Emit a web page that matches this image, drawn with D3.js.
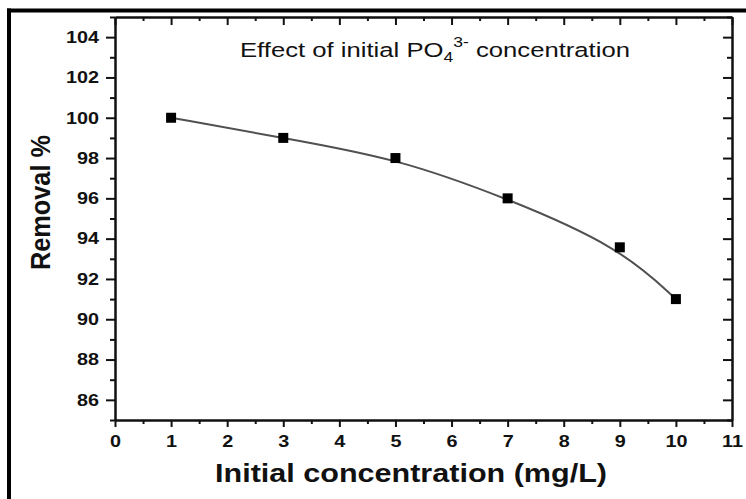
<!DOCTYPE html>
<html>
<head>
<meta charset="utf-8">
<script src="https://cdn.jsdelivr.net/npm/d3@7"></script>
<style>
  html, body { margin: 0; padding: 0; background: #fff; }
  svg { display: block; }
</style>
</head>
<body>
<svg id="chart" width="746" height="499"></svg>
<script>
// Removal efficiency vs. initial phosphate concentration
const concentration = [1, 3, 5, 7, 9, 10];          // mg/L
const removal       = [100, 99, 98, 96, 93.57, 91];  // %

const xMajorTicks = [0, 1, 2, 3, 4, 5, 6, 7, 8, 9, 10, 11];
const xMinorTicks = [0.5, 1.5, 2.5, 3.5, 4.5, 5.5, 6.5, 7.5, 8.5, 9.5, 10.5];
const yMajorTicks = [86, 88, 90, 92, 94, 96, 98, 100, 102, 104];
const yMinorTicks = [85, 87, 89, 91, 93, 95, 97, 99, 101, 103, 105];

const xDomain = [0, 11];
const yDomain = [85, 105];

const titleMain = "Effect of initial PO";
const titleSub = "4";
const titleSup = "3-";
const titleTail = " concentration";
const xLabel = "Initial concentration (mg/L)";
const yLabel = "Removal %";

const FONT = "'Liberation Sans', Arial, Helvetica, sans-serif";
const INK = "#111";

const svg = d3.select("#chart");
const W = 746, H = 499;
const plot = { left: 115, right: 732, top: 17, bottom: 420 };

svg.append("rect").attr("width", W).attr("height", H).attr("fill", "#fff");

// outer frame (top and left edges)
svg.append("line").attr("x1", 7).attr("x2", W).attr("y1", 10.5).attr("y2", 10.5)
  .attr("stroke", "#000").attr("stroke-width", 4);
svg.append("line").attr("x1", 9).attr("x2", 9).attr("y1", 8.5).attr("y2", H)
  .attr("stroke", "#000").attr("stroke-width", 4);

const x = d3.scaleLinear().domain(xDomain).range([plot.left, plot.right]);
const y = d3.scaleLinear().domain(yDomain).range([plot.bottom, plot.top]);

const labelScale = 1.2;
const labelSize = 16.5;

function styleAxis(g) {
  g.attr("font-family", FONT);
  g.select(".domain").attr("stroke", INK).attr("stroke-width", 2);
  g.selectAll(".tick line").attr("stroke", INK).attr("stroke-width", 2);
}

// bottom axis: labelled major ticks + minor ticks
const gxB = svg.append("g").attr("transform", `translate(0,${plot.bottom})`)
  .call(d3.axisBottom(x).tickValues(xMajorTicks).tickSize(7).tickPadding(8)
    .tickFormat(d3.format("d")).tickSizeOuter(0));
styleAxis(gxB);
gxB.selectAll(".tick text")
  .attr("font-size", labelSize).attr("font-weight", "bold")
  .attr("fill", INK)
  .attr("transform", `scale(${labelScale},1)`);
const gxBm = svg.append("g").attr("transform", `translate(0,${plot.bottom})`)
  .call(d3.axisBottom(x).tickValues(xMinorTicks).tickSize(4).tickFormat("").tickSizeOuter(0));
styleAxis(gxBm);

// left axis
const gyL = svg.append("g").attr("transform", `translate(${plot.left},0)`)
  .call(d3.axisLeft(y).tickValues(yMajorTicks).tickSize(9).tickPadding(7)
    .tickFormat(d3.format("d")).tickSizeOuter(0));
styleAxis(gyL);
gyL.selectAll(".tick text")
  .attr("font-size", labelSize).attr("font-weight", "bold")
  .attr("fill", INK)
  .attr("x", -16 / labelScale)
  .attr("transform", `scale(${labelScale},1)`);
const gyLm = svg.append("g").attr("transform", `translate(${plot.left},0)`)
  .call(d3.axisLeft(y).tickValues(yMinorTicks).tickSize(5).tickFormat("").tickSizeOuter(0));
styleAxis(gyLm);

// top axis (ticks pointing down, no labels)
const gxT = svg.append("g").attr("transform", `translate(0,${plot.top})`)
  .call(d3.axisBottom(x).tickValues(xMajorTicks).tickSize(8).tickFormat("").tickSizeOuter(0));
styleAxis(gxT);
const gxTm = svg.append("g").attr("transform", `translate(0,${plot.top})`)
  .call(d3.axisBottom(x).tickValues(xMinorTicks).tickSize(4).tickFormat("").tickSizeOuter(0));
styleAxis(gxTm);

// right axis (ticks pointing left, no labels)
const gyR = svg.append("g").attr("transform", `translate(${plot.right},0)`)
  .call(d3.axisLeft(y).tickValues(yMajorTicks).tickSize(9).tickFormat("").tickSizeOuter(0));
styleAxis(gyR);
const gyRm = svg.append("g").attr("transform", `translate(${plot.right},0)`)
  .call(d3.axisLeft(y).tickValues(yMinorTicks).tickSize(5).tickFormat("").tickSizeOuter(0));
styleAxis(gyRm);

// smoothed trend line
const pts = concentration.map((c, i) => [c, removal[i]]);
const line = d3.line().x(d => x(d[0])).y(d => y(d[1])).curve(d3.curveBasis);
svg.append("path").datum(pts).attr("d", line)
  .attr("fill", "none").attr("stroke", "#505050").attr("stroke-width", 2);

// square markers
const ms = 10;
svg.append("g").selectAll("rect").data(pts).join("rect")
  .attr("x", d => x(d[0]) - ms / 2).attr("y", d => y(d[1]) - ms / 2)
  .attr("width", ms).attr("height", ms).attr("fill", "#000");

// title with sub/superscript
const title = svg.append("text")
  .attr("x", 240).attr("y", 57)
  .attr("font-family", FONT).attr("fill", INK)
  .attr("font-size", 20.5)
  .attr("textLength", 390).attr("lengthAdjust", "spacingAndGlyphs");
title.append("tspan").text(titleMain);
title.append("tspan").attr("font-size", 14).attr("dy", 5).text(titleSub);
title.append("tspan").attr("font-size", 14).attr("dy", -15).text(titleSup);
title.append("tspan").attr("dy", 10).text(titleTail);

// axis titles
svg.append("text")
  .attr("x", 411).attr("y", 482)
  .attr("text-anchor", "middle")
  .attr("font-family", FONT).attr("fill", INK)
  .attr("font-size", 26).attr("font-weight", "bold")
  .attr("textLength", 392).attr("lengthAdjust", "spacingAndGlyphs")
  .text(xLabel);

svg.append("text")
  .attr("transform", "translate(50,202.5) rotate(-90)")
  .attr("text-anchor", "middle")
  .attr("font-family", FONT).attr("fill", INK)
  .attr("font-size", 28).attr("font-weight", "bold")
  .attr("textLength", 135).attr("lengthAdjust", "spacingAndGlyphs")
  .text(yLabel);
</script>
</body>
</html>
